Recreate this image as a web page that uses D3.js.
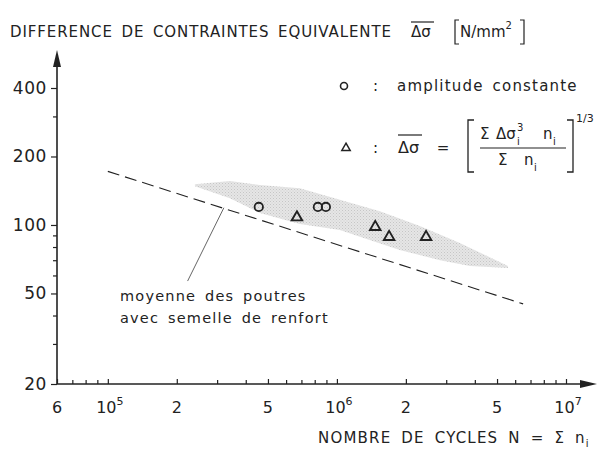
<!DOCTYPE html>
<html>
<head>
<meta charset="utf-8">
<script src="https://cdn.jsdelivr.net/npm/d3@7"></script>
<style>
  body { margin: 0; background: #fff; }
  svg text { font-family: "DejaVu Sans", sans-serif; fill: #222; }
</style>
</head>
<body>
<div id="chart"></div>
<script>
// DATA
const circleN = [4.56e5, 8.26e5, 8.95e5];      // amplitude constante
const circleS = [120, 120, 120];
const triN = [6.69e5, 1.47e6, 1.69e6, 2.45e6];  // amplitude variable
const triS = [108, 98, 88.6, 88.6];

// shaded scatter band
const bandUpperN = [2.40e5, 3.41e5, 4.61e5, 6.89e5, 1.03e6, 1.54e6, 2.30e6, 3.44e6, 5.58e6];
const bandUpperS = [151, 156, 150, 145, 129, 115, 99, 83.4, 66];
const bandLowerN = [5.58e6, 3.81e6, 2.82e6, 1.88e6, 1.39e6, 1.03e6, 6.89e5, 4.61e5, 3.41e5, 2.40e5];
const bandLowerS = [64.7, 66, 70, 77.7, 86, 95, 101, 113, 131, 148];

// mean line of beams with cover plates, and the leader to its label
const meanN = [1.0e5, 6.5e6];
const meanS = [172, 45];
const leaderN = [3.21e5, 2.23e5];
const leaderS = [119, 56.7];

// axis ticks
const xMajor = [6e4, 1e5, 2e5, 5e5, 1e6, 2e6, 5e6, 1e7];
const xMinor = [7e4, 8e4, 9e4, 3e5, 4e5, 6e5, 7e5, 8e5, 9e5, 3e6, 4e6, 6e6, 7e6, 8e6, 9e6];
const yMajor = [20, 50, 100, 200, 400];
const yMinor = [30, 40, 60, 70, 80, 90, 300];

// 1: SVG + SCALES
const W = 598, H = 452;
const svg = d3.select("#chart").append("svg")
    .attr("width", W)
    .attr("height", H);

const x = d3.scaleLog().domain([6e4, 1e7]).range([57, 566]);
const y = d3.scaleLog().domain([20, 400]).range([384, 88]);
const ink = "#222";

// 2: BAND
const bandPts = bandUpperN.map((n, i) => [n, bandUpperS[i]])
    .concat(bandLowerN.map((n, i) => [n, bandLowerS[i]]));

const defs = svg.append("defs");
const pat = defs.append("pattern")
    .attr("id", "stipple")
    .attr("width", 3).attr("height", 3)
    .attr("patternUnits", "userSpaceOnUse");
pat.append("rect").attr("width", 3).attr("height", 3).attr("fill", "#e6e6e6");
pat.append("rect").attr("width", 1).attr("height", 1).attr("fill", "#c6c6c6");
pat.append("rect").attr("x", 1.5).attr("y", 1.5).attr("width", 1).attr("height", 1).attr("fill", "#d0d0d0");

svg.append("path")
    .attr("d", d3.line().x(d => x(d[0])).y(d => y(d[1])).curve(d3.curveLinearClosed)(bandPts))
    .attr("fill", "url(#stipple)")
    .attr("stroke", "none");

// 3: MEAN LINE + LEADER
svg.append("path")
    .attr("d", d3.line().x(d => x(d[0])).y(d => y(d[1]))(meanN.map((n, i) => [n, meanS[i]])))
    .attr("fill", "none")
    .attr("stroke", ink)
    .attr("stroke-width", 1.1)
    .attr("stroke-dasharray", "12,6");

svg.append("path")
    .attr("d", d3.line().x(d => x(d[0])).y(d => y(d[1]))(leaderN.map((n, i) => [n, leaderS[i]])))
    .attr("fill", "none")
    .attr("stroke", "#555")
    .attr("stroke-width", 0.9);

svg.append("text").attr("x", 120).attr("y", 301)
    .style("font-size", "14.5px").style("letter-spacing", "1.2px").style("word-spacing", "3px")
    .text("moyenne des poutres");
svg.append("text").attr("x", 120).attr("y", 323)
    .style("font-size", "14.5px").style("letter-spacing", "1.2px").style("word-spacing", "3px")
    .text("avec semelle de renfort");

// 4: POINTS
svg.selectAll(".circ")
    .data(circleN.map((n, i) => ({ n, s: circleS[i] })))
    .enter().append("circle")
    .attr("class", "circ")
    .attr("cx", d => x(d.n))
    .attr("cy", d => y(d.s))
    .attr("r", 4.2)
    .attr("fill", "none")
    .attr("stroke", ink)
    .attr("stroke-width", 1.8);

const tri = d3.symbol().type(d3.symbolTriangle).size(48);
svg.selectAll(".tri")
    .data(triN.map((n, i) => ({ n, s: triS[i] })))
    .enter().append("path")
    .attr("class", "tri")
    .attr("d", tri)
    .attr("transform", d => `translate(${x(d.n)},${y(d.s)})`)
    .attr("fill", "none")
    .attr("stroke", ink)
    .attr("stroke-width", 1.9)
    .attr("stroke-linejoin", "miter");

// 5: AXES
const xAxisG = svg.append("g").attr("transform", "translate(0,384)");
xAxisG.call(d3.axisBottom(x).tickValues(xMinor).tickSize(-4).tickFormat(""));
xAxisG.append("g").call(d3.axisBottom(x).tickValues(xMajor).tickSize(-5).tickFormat(""));
xAxisG.selectAll(".domain").remove();
xAxisG.selectAll("line").attr("stroke", ink).attr("stroke-width", 1.2);

const yAxisG = svg.append("g").attr("transform", "translate(57,0)");
yAxisG.call(d3.axisLeft(y).tickValues(yMinor).tickSize(4).tickFormat(""));
yAxisG.append("g").call(d3.axisLeft(y).tickValues(yMajor).tickSize(6).tickFormat(""));
yAxisG.selectAll(".domain").remove();
yAxisG.selectAll("line").attr("stroke", ink).attr("stroke-width", 1.2);

// axis lines with arrows
svg.append("line").attr("x1", 57).attr("y1", 384).attr("x2", 57).attr("y2", 62)
    .attr("stroke", ink).attr("stroke-width", 1.6);
svg.append("path").attr("d", "M57,50 L53,67 L61,67 Z").attr("fill", ink);
svg.append("line").attr("x1", 57).attr("y1", 384).attr("x2", 584).attr("y2", 384)
    .attr("stroke", ink).attr("stroke-width", 1.6);
svg.append("path").attr("d", "M597,384 L580,380 L580,388 Z").attr("fill", ink);

// y tick labels
svg.selectAll(".ylab")
    .data(yMajor)
    .enter().append("text")
    .attr("class", "ylab")
    .attr("x", 47)
    .attr("y", d => y(d) + 6)
    .attr("text-anchor", "end")
    .style("font-size", "17px")
    .style("letter-spacing", "0.6px")
    .text(d => d);

// x tick labels: mantissa or 10^k
svg.selectAll(".xlab")
    .data(xMajor)
    .enter().append("text")
    .attr("class", "xlab")
    .attr("x", d => x(d) + (Number.isInteger(Math.log10(d)) ? 2 : 0))
    .attr("y", 413)
    .attr("text-anchor", "middle")
    .style("font-size", "16px")
    .each(function (d) {
        const e = Math.round(Math.log10(d));
        const t = d3.select(this);
        if (Math.abs(Math.log10(d) - e) < 1e-9) {
            t.append("tspan").text("10");
            t.append("tspan").attr("dy", -8).style("font-size", "11px").text(e);
        } else {
            t.text(Math.round(d / Math.pow(10, Math.floor(Math.log10(d)))));
        }
    });

// 6: TITLES
const title = svg.append("text").attr("x", 10).attr("y", 37)
    .style("font-size", "15px").style("letter-spacing", "0.9px").style("word-spacing", "3px");
title.text("DIFFERENCE DE CONTRAINTES EQUIVALENTE");
svg.append("text").attr("x", 411).attr("y", 37).style("font-size", "15px").text("Δσ");
svg.append("line").attr("x1", 411).attr("x2", 434).attr("y1", 22).attr("y2", 22)
    .attr("stroke", ink).attr("stroke-width", 1.2);
svg.append("path").attr("d", "M459,20 L455,20 L455,44 L459,44").attr("fill", "none").attr("stroke", ink).attr("stroke-width", 1.2);
const unit = svg.append("text").attr("x", 460).attr("y", 37).style("font-size", "15px");
unit.append("tspan").text("N/mm");
unit.append("tspan").attr("dy", -8).style("font-size", "10px").text("2");
svg.append("path").attr("d", "M520,20 L524,20 L524,44 L520,44").attr("fill", "none").attr("stroke", ink).attr("stroke-width", 1.2);

const xt = svg.append("text").attr("x", 318).attr("y", 443)
    .style("font-size", "15px").style("letter-spacing", "1.2px").style("word-spacing", "4px");
xt.append("tspan").text("NOMBRE DE CYCLES  N = Σ n");
xt.append("tspan").attr("dy", 4).style("font-size", "10px").text("i");

// 7: LEGEND
svg.append("circle").attr("cx", 344).attr("cy", 86).attr("r", 3.5)
    .attr("fill", "none").attr("stroke", ink).attr("stroke-width", 1.6);
svg.append("text").attr("x", 373).attr("y", 91).style("font-size", "15px").text(":");
svg.append("text").attr("x", 397).attr("y", 91)
    .style("font-size", "15px").style("letter-spacing", "1.2px").style("word-spacing", "3px")
    .text("amplitude constante");

svg.append("path").attr("d", d3.symbol().type(d3.symbolTriangle).size(30))
    .attr("transform", "translate(346,148)")
    .attr("fill", "none").attr("stroke", ink).attr("stroke-width", 1.5);
svg.append("text").attr("x", 373).attr("y", 153).style("font-size", "15px").text(":");
svg.append("text").attr("x", 398).attr("y", 153).style("font-size", "16px").text("Δσ");
svg.append("line").attr("x1", 398).attr("x2", 422).attr("y1", 135).attr("y2", 135)
    .attr("stroke", ink).attr("stroke-width", 1.2);
svg.append("text").attr("x", 443).attr("y", 153).attr("text-anchor", "middle").style("font-size", "15px").text("=");
svg.append("path").attr("d", "M474,120 L468,120 L468,172 L474,172").attr("fill", "none").attr("stroke", ink).attr("stroke-width", 1.3);
svg.append("path").attr("d", "M567,120 L573,120 L573,172 L567,172").attr("fill", "none").attr("stroke", ink).attr("stroke-width", 1.3);
svg.append("text").attr("x", 480).attr("y", 139).style("font-size", "15px").text("Σ");
svg.append("text").attr("x", 496).attr("y", 139).style("font-size", "15px").text("Δσ");
svg.append("text").attr("x", 517).attr("y", 131).style("font-size", "10px").text("3");
svg.append("text").attr("x", 517).attr("y", 145).style("font-size", "10px").text("i");
svg.append("text").attr("x", 543).attr("y", 139).style("font-size", "15px").text("n");
svg.append("text").attr("x", 553).attr("y", 145).style("font-size", "10px").text("i");
svg.append("line").attr("x1", 480).attr("x2", 566).attr("y1", 148).attr("y2", 148)
    .attr("stroke", ink).attr("stroke-width", 1.1);
svg.append("text").attr("x", 498).attr("y", 165).style("font-size", "15px").text("Σ");
svg.append("text").attr("x", 524).attr("y", 165).style("font-size", "15px").text("n");
svg.append("text").attr("x", 534).attr("y", 171).style("font-size", "10px").text("i");
svg.append("text").attr("x", 576).attr("y", 122).style("font-size", "11px").text("1/3");
</script>
</body>
</html>
